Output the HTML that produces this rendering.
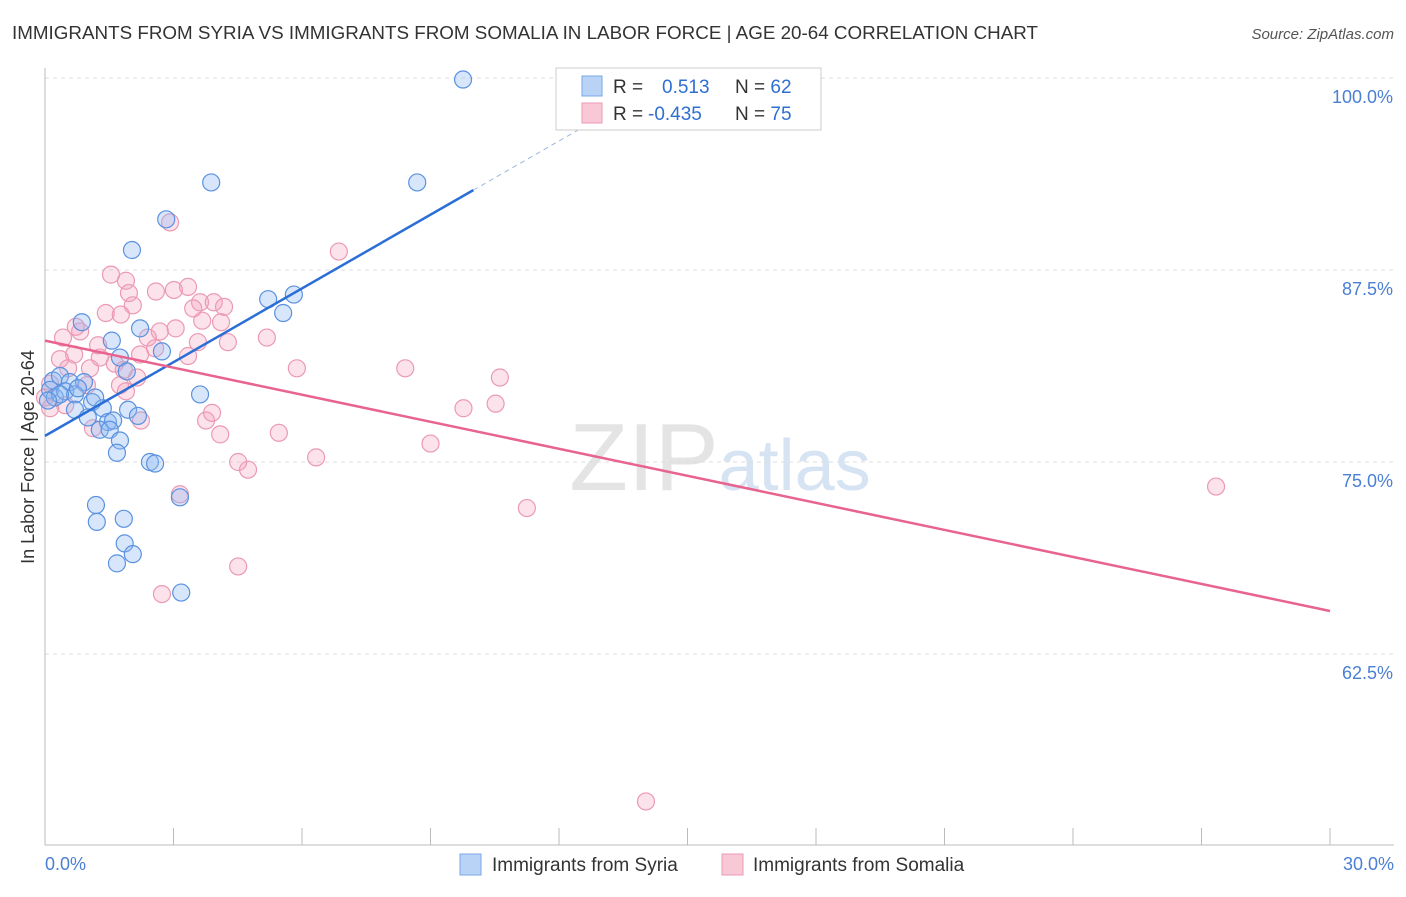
<!DOCTYPE html>
<html><head><meta charset="utf-8"><style>
body{margin:0;background:#fff;font-family:"Liberation Sans",sans-serif}
svg text{font-family:"Liberation Sans",sans-serif}
</style></head><body>
<svg id="chart" width="1406" height="892" viewBox="0 0 1406 892" xmlns="http://www.w3.org/2000/svg">
<text x="12" y="39" font-size="18" fill="#333" textLength="1026" lengthAdjust="spacingAndGlyphs">IMMIGRANTS FROM SYRIA VS IMMIGRANTS FROM SOMALIA IN LABOR FORCE | AGE 20-64 CORRELATION CHART</text>
<text x="1394" y="39" font-size="15" fill="#555" text-anchor="end" font-style="italic">Source: ZipAtlas.com</text>
<text x="720" y="490" font-size="96" fill="#e4e4e4" text-anchor="middle" font-family="Liberation Serif">ZIP<tspan fill="#d5e3f3" font-family="Liberation Sans" font-size="72">atlas</tspan></text>
<g id="grid"></g>
<line x1="45" y1="845" x2="1394" y2="845" stroke="#bbb"/>
<line x1="45" y1="68" x2="45" y2="845" stroke="#bbb"/>
<g id="xticks"></g>
<text transform="translate(34,457) rotate(-90)" font-size="18" fill="#333" text-anchor="middle">In Labor Force | Age 20-64</text>
<text x="45" y="870" font-size="18" fill="#4a7fd4">0.0%</text>
<text x="1394" y="870" font-size="18" fill="#4a7fd4" text-anchor="end">30.0%</text>
<g id="points"></g>
<g id="lines"></g>
<g>
<rect x="556" y="68" width="265" height="62" fill="#fff" stroke="#ccc"/>
<rect x="582" y="76" width="20" height="20" fill="#b8d3f5" stroke="#7aa7e6"/>
<rect x="582" y="103" width="20" height="20" fill="#f9c8d6" stroke="#eb9ab3"/>
<text x="613" y="93" font-size="19" fill="#333">R = <tspan fill="#2f6fd1" x="662">0.513</tspan><tspan fill="#333" x="735">N = </tspan><tspan fill="#2f6fd1">62</tspan></text>
<text x="613" y="120" font-size="19" fill="#333">R = <tspan fill="#2f6fd1" x="648">-0.435</tspan><tspan fill="#333" x="735">N = </tspan><tspan fill="#2f6fd1">75</tspan></text>
</g>
<g>
<rect x="460" y="854" width="21" height="21" fill="#b8d3f5" stroke="#7aa7e6"/>
<text x="492" y="871" font-size="19" fill="#333">Immigrants from Syria</text>
<rect x="722" y="854" width="21" height="21" fill="#f9c8d6" stroke="#eb9ab3"/>
<text x="753" y="871" font-size="19" fill="#333">Immigrants from Somalia</text>
</g>
</svg>
<script>
const yTicks=[100,87.5,75,62.5];
const yTickLabels=["100.0%","87.5%","75.0%","62.5%"];
const xTicks=[0,3,6,9,12,15,18,21,24,27,30];
const syriaX=[9.76,3.88,8.69,2.83,2.03,5.21,5.81,5.56,0.86,2.22,1.56,2.73,1.75,1.91,3.62,0.19,0.35,0.58,0.91,0.12,0.23,0.47,0.70,0.77,1.10,0.70,1.00,1.35,1.47,1.59,1.94,2.17,1.28,1.51,1.75,1.68,2.45,2.57,3.15,1.19,1.21,1.84,1.86,2.05,1.68,3.18,0.35,0.07,1.17];
const syriaY=[99.9,93.2,93.2,90.8,88.8,85.6,85.9,84.7,84.1,83.7,82.9,82.2,81.8,80.9,79.4,80.3,80.6,80.2,80.2,79.7,79.2,79.6,79.4,79.8,78.9,78.4,77.9,78.5,77.6,77.7,78.4,78.0,77.1,77.1,76.4,75.6,75.0,74.9,72.7,72.2,71.1,71.3,69.7,69.0,68.4,66.5,79.4,79.0,79.2];
const somaliaX=[14.03,27.34,11.25,9.0,9.77,10.52,10.62,8.41,5.88,6.86,6.33,5.46,5.18,4.51,4.74,4.51,3.15,2.73,2.92,1.54,1.89,2.59,3.01,3.34,3.62,3.94,4.18,3.46,1.96,2.05,1.42,1.77,3.67,4.11,3.05,2.68,2.40,0.42,0.82,3.57,4.27,2.57,3.34,2.22,0.68,0.35,1.28,1.63,1.05,0.54,1.84,2.15,0.98,1.75,0.12,0.0,1.89,0.47,2.24,3.76,4.09,1.12,0.12,3.90,1.24,0.72];
const somaliaY=[52.9,73.4,72.0,76.2,78.5,78.8,80.5,81.1,81.1,88.7,75.3,76.9,83.1,68.2,74.5,75.0,72.9,66.4,90.6,87.2,86.8,86.1,86.2,86.4,85.4,85.4,85.1,85.0,86.0,85.2,84.7,84.6,84.2,84.1,83.7,83.5,83.1,83.1,83.5,82.8,82.8,82.4,81.9,82.0,82.0,81.7,81.8,81.4,81.1,81.1,81.0,80.5,80.0,80.0,80.1,79.2,79.6,78.7,77.7,77.7,76.8,77.2,78.5,78.2,82.6,83.8];
const syriaTrend=[76.7,92.7,10];
const somaliaTrend=[82.9,65.3,30];
const NS="http://www.w3.org/2000/svg";
const xs=v=>45+v/30*1285;
const ys=v=>78+(100-v)/12.5*192;
function mk(tag,attrs,parent){const e=document.createElementNS(NS,tag);for(const k in attrs)e.setAttribute(k,attrs[k]);parent.appendChild(e);return e;}
const grid=document.getElementById('grid');
yTicks.forEach((t,i)=>{
 const l=mk('line',{x1:45,x2:1394,y1:ys(t),y2:ys(t),stroke:'#ddd','stroke-dasharray':'4 4'},grid);
 
 
 const tx=mk('text',{x:1393,y:ys(t)+25,'font-size':18,fill:'#4a7fd4','text-anchor':'end'},grid);
 tx.textContent=yTickLabels[i];
 
 
});
const xt=document.getElementById('xticks');
xTicks.forEach(t=>{
 const l=mk('line',{x1:xs(t),x2:xs(t),y1:828,y2:845,stroke:'#bbb'},xt);
 
 
});
const pts=document.getElementById('points');
somaliaX.forEach((x,i)=>{
 const c=mk('circle',{cx:xs(x),cy:ys(somaliaY[i]),r:8.5,fill:'rgba(244,160,188,0.3)',stroke:'#eb9ab3','stroke-width':1.2},pts);
 
 
});
syriaX.forEach((x,i)=>{
 const c=mk('circle',{cx:xs(x),cy:ys(syriaY[i]),r:8.5,fill:'rgba(140,184,240,0.35)',stroke:'#5a92e0','stroke-width':1.2},pts);
 
 
});
const ln=document.getElementById('lines');
const sSlope=(syriaTrend[1]-syriaTrend[0])/syriaTrend[2];
let a=mk('line',{x1:xs(0),y1:ys(syriaTrend[0]),x2:xs(syriaTrend[2]),y2:ys(syriaTrend[1]),stroke:'#2b6fd6','stroke-width':2.5},ln);


a=mk('line',{x1:xs(syriaTrend[2]),y1:ys(syriaTrend[1]),x2:xs(13.5),y2:ys(syriaTrend[0]+sSlope*13.5),stroke:'#9bb8e0','stroke-width':1,'stroke-dasharray':'5 4'},ln);


a=mk('line',{x1:xs(0),y1:ys(somaliaTrend[0]),x2:xs(somaliaTrend[2]),y2:ys(somaliaTrend[1]),stroke:'#e8638e','stroke-width':2.5},ln);


</script>
</body></html>
